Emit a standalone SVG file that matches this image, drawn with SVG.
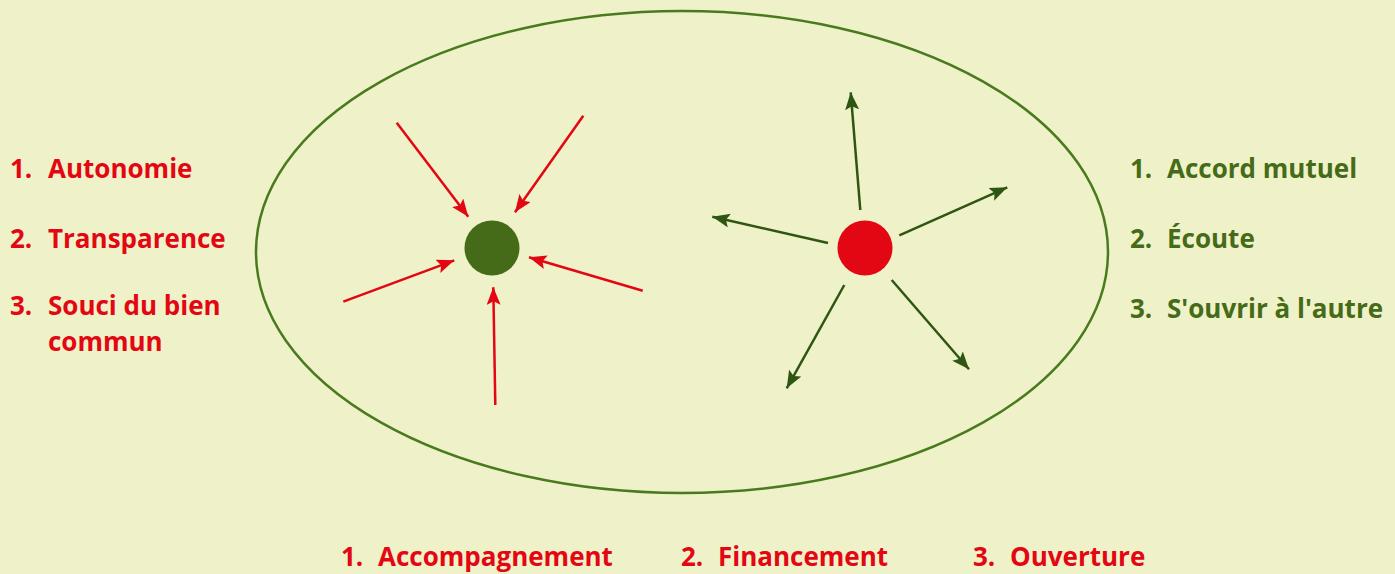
<svg xmlns="http://www.w3.org/2000/svg" width="1395" height="574" viewBox="0 0 1395 574">
<defs>
<marker id="ahR" markerWidth="7" markerHeight="5.6" refX="7" refY="2.8" orient="auto" markerUnits="strokeWidth"><path d="M0,0 L7,2.8 L0,5.6 L1.4,2.8 Z" fill="#e30613"/></marker>
<marker id="ahG" markerWidth="7" markerHeight="5.6" refX="7" refY="2.8" orient="auto" markerUnits="strokeWidth"><path d="M0,0 L7,2.8 L0,5.6 L1.4,2.8 Z" fill="#2f5512"/></marker>
</defs>
<style>
.t{font-family:"Open Sans","Noto Sans",sans-serif;font-weight:bold;font-size:26px}
.r{fill:#e30613}
.g{fill:#456b18}
.ar{stroke:#e30613;stroke-width:2.5;fill:none;marker-end:url(#ahR)}
.ag{stroke:#2f5512;stroke-width:2.5;fill:none;marker-end:url(#ahG)}
</style>
<rect width="1395" height="574" fill="#eff2c9"/>
<g id="ellipse"><ellipse cx="682" cy="252" rx="426" ry="241" fill="none" stroke="#4a7a1e" stroke-width="2.5"/></g>
<g id="green-node"><circle cx="492" cy="248" r="27.5" fill="#456b18"/></g>
<g id="red-node"><circle cx="865" cy="248" r="27.5" fill="#e30613"/></g>
<g id="connectors">
<line class="ar" x1="396.7" y1="122.7" x2="468.3" y2="216.7"/>
<line class="ar" x1="583.3" y1="115.7" x2="515" y2="212.3"/>
<line class="ar" x1="343.3" y1="301.7" x2="454.3" y2="260.3"/>
<line class="ar" x1="642.7" y1="290.7" x2="529" y2="257.3"/>
<line class="ar" x1="495.3" y1="405" x2="493.3" y2="287.3"/>
<line class="ag" x1="860.3" y1="210" x2="850.7" y2="92.3"/>
<line class="ag" x1="828" y1="243" x2="712.3" y2="216.7"/>
<line class="ag" x1="899.3" y1="235.3" x2="1007.3" y2="187.3"/>
<line class="ag" x1="844.3" y1="285" x2="786.7" y2="388.3"/>
<line class="ag" x1="891.7" y1="280" x2="969" y2="369.3"/>
</g>
<g id="left-list" class="t r">
<text x="10" y="178">1.</text><text x="48" y="178">Autonomie</text>
<text x="10" y="248">2.</text><text x="48" y="248">Transparence</text>
<text x="10" y="315">3.</text><text x="48" y="315">Souci du bien</text>
<text x="48" y="351">commun</text>
</g>
<g id="right-list" class="t g">
<text x="1130" y="178">1.</text><text x="1167" y="178">Accord mutuel</text>
<text x="1130" y="248">2.</text><text x="1167" y="248">Écoute</text>
<text x="1130" y="318">3.</text><text x="1167" y="318">S'ouvrir à l'autre</text>
</g>
<g id="bottom-list" class="t r">
<text x="341" y="566">1.</text><text x="378" y="566">Accompagnement</text>
<text x="681" y="566">2.</text><text x="718" y="566">Financement</text>
<text x="973" y="566">3.</text><text x="1010" y="566">Ouverture</text>
</g>
</svg>
